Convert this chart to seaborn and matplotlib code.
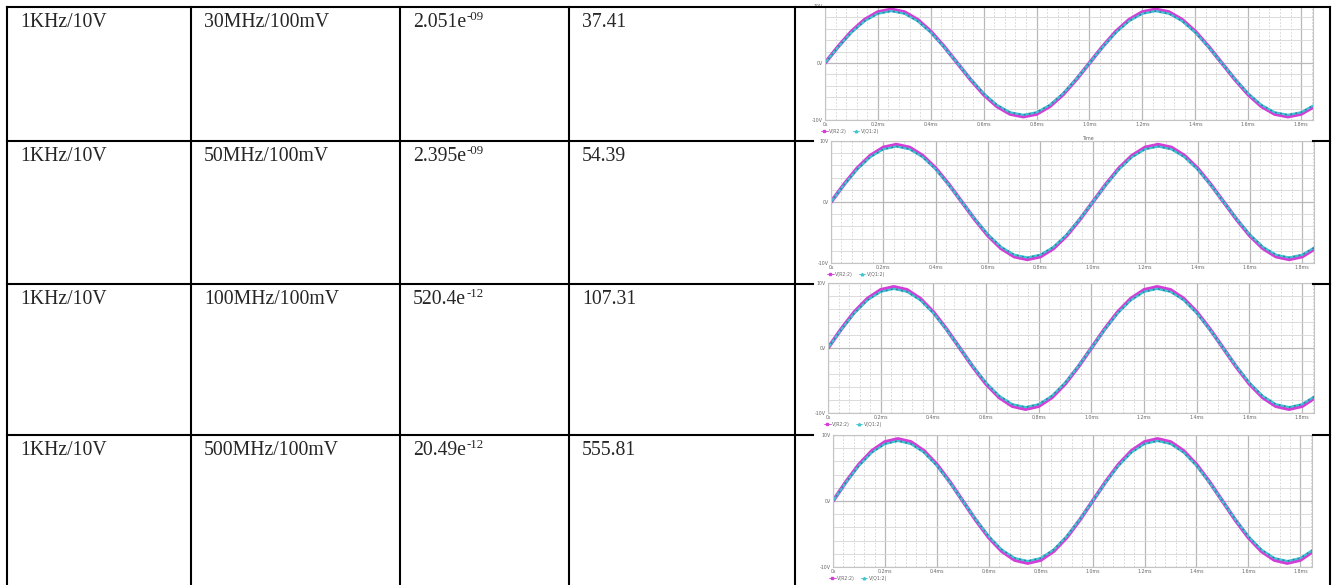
import matplotlib
matplotlib.use("Agg")
import matplotlib.pyplot as plt
from matplotlib.lines import Line2D
import numpy as np
import pandas as pd
import seaborn as sns

# ---------------- data ----------------
input_signal = ["1KHz/10V", "1KHz/10V", "1KHz/10V", "1KHz/10V"]
carrier = ["30MHz/100mV", "50MHz/100mV", "100MHz/100mV", "500MHz/100mV"]
mantissa = ["2.051e", "2.395e", "520.4e", "20.49e"]
exponent = ["-09", "-09", "-12", "-12"]
col4_values = ["37.41", "54.39", "107.31", "555.81"]

# waveform samples (time in ms, volts)
time_ms = [0.00, 0.05, 0.10, 0.15, 0.20, 0.25, 0.30, 0.35, 0.40, 0.45,
           0.50, 0.55, 0.60, 0.65, 0.70, 0.75, 0.80, 0.85, 0.90, 0.95,
           1.00, 1.05, 1.10, 1.15, 1.20, 1.25, 1.30, 1.35, 1.40, 1.45,
           1.50, 1.55, 1.60, 1.65, 1.70, 1.75, 1.80, 1.85]
v_r2 = [0.00, 2.90, 5.53, 7.60, 8.94, 9.40, 8.94, 7.60, 5.53, 2.90,
        0.00, -2.90, -5.53, -7.60, -8.94, -9.40, -8.94, -7.60, -5.53, -2.90,
        0.00, 2.90, 5.53, 7.60, 8.94, 9.40, 8.94, 7.60, 5.53, 2.90,
        0.00, -2.90, -5.53, -7.60, -8.94, -9.40, -8.94, -7.60]
v_q1 = [0.00, 2.81, 5.35, 7.36, 8.65, 9.10, 8.65, 7.36, 5.35, 2.81,
        0.00, -2.81, -5.35, -7.36, -8.65, -9.10, -8.65, -7.36, -5.35, -2.81,
        0.00, 2.81, 5.35, 7.36, 8.65, 9.10, 8.65, 7.36, 5.35, 2.81,
        0.00, -2.81, -5.35, -7.36, -8.65, -9.10, -8.65, -7.36]
xtick_vals = [0.0, 0.2, 0.4, 0.6, 0.8, 1.0, 1.2, 1.4, 1.6, 1.8]
xtick_labels = ["0s", "0.2ms", "0.4ms", "0.6ms", "0.8ms", "1.0ms", "1.2ms", "1.4ms", "1.6ms", "1.8ms"]
ytick_vals = [-10, 0, 10]
ytick_labels = ["-10V", "0V", "10V"]
trace_names = ["V(R2:2)", "V(Q1:2)"]

# ---------------- layout ----------------
sns.set_style("white")
plt.rcParams["font.family"] = ["Liberation Serif", "DejaVu Serif"]

W, H = 1334, 585
fig = plt.figure(figsize=(W / 100, H / 100), dpi=100)
fig.patch.set_facecolor("white")


def fx(x):
    return x / W


def fy(y):
    return 1 - y / H


def hline(y, x0, x1, lw=1.5):
    fig.add_artist(Line2D([fx(x0), fx(x1)], [fy(y), fy(y)], transform=fig.transFigure,
                          color="black", lw=lw, zorder=10, solid_capstyle="projecting"))


def vline(x, y0, y1, lw=1.5):
    fig.add_artist(Line2D([fx(x), fx(x)], [fy(y0), fy(y1)], transform=fig.transFigure,
                          color="black", lw=lw, zorder=10, solid_capstyle="projecting"))


col_x = [7, 191, 400, 569, 795]
right_x = 1330
row_tops = [7, 141, 284, 435]

hline(7, 7, right_x)
for y in row_tops[1:]:
    hline(y, 7, 813)
    hline(y, 1313, right_x)
for x in col_x:
    vline(x, 7, 585)
vline(right_x, 7, 585)

# ---------------- text cells ----------------
renderer = fig.canvas.get_renderer()
fs = 14.2
text_x = [x + 13 for x in col_x[:4]]
for i, top in enumerate(row_tops):
    base_y = fy(top + 20)
    fig.text(fx(text_x[0]), base_y, input_signal[i], fontsize=fs, va="baseline", ha="left")
    fig.text(fx(text_x[1]), base_y, carrier[i], fontsize=fs, va="baseline", ha="left")
    t = fig.text(fx(text_x[2]), base_y, mantissa[i], fontsize=fs, va="baseline", ha="left")
    bb = t.get_window_extent(renderer)
    fig.text(bb.x1 / W + 0.0004, fy(top + 13), exponent[i], fontsize=9.3,
             va="baseline", ha="left")
    fig.text(fx(text_x[3]), base_y, col4_values[i], fontsize=fs, va="baseline", ha="left")

# ---------------- waveform plots ----------------
ax_boxes = [  # left, right, top, bottom in pixels
    (825, 1313, 6, 120),
    (831, 1314, 141, 263),
    (828, 1314, 283, 413),
    (833, 1312, 435, 567),
]
mag = "#d23ed6"
cyan = "#3cc6cf"
navy = "#3b3f9c"

df = pd.DataFrame({
    "time": time_ms * 2,
    "voltage": v_r2 + v_q1,
    "trace": [trace_names[0]] * len(time_ms) + [trace_names[1]] * len(time_ms),
})

for k, (l, r, t, b) in enumerate(ax_boxes):
    ax = fig.add_axes([fx(l), fy(b), (r - l) / W, (b - t) / H])
    ax.set_facecolor("white")
    sns.lineplot(data=df[df.trace == trace_names[0]], x="time", y="voltage",
                 color=mag, linewidth=2.7, ax=ax, legend=False)
    sns.lineplot(data=df[df.trace == trace_names[1]], x="time", y="voltage",
                 color=cyan, linewidth=1.6, ax=ax, legend=False)
    sns.lineplot(data=df[df.trace == trace_names[1]], x="time", y="voltage",
                 color=navy, linewidth=1.1, ax=ax, legend=False, alpha=0.6,
                 linestyle=(0, (1.2, 2.2)))
    ax.set_xlim(0, 1.845)
    ax.set_ylim(-10, 10)
    ax.set_xticks(xtick_vals)
    ax.set_xticklabels(xtick_labels)
    ax.set_yticks(ytick_vals)
    ax.set_yticklabels(ytick_labels)
    ax.set_xticks(np.arange(0, 1.845, 0.04), minor=True)
    ax.set_yticks(np.arange(-10, 10.1, 2), minor=True)
    ax.grid(which="major", color="#b8b8b8", lw=0.9)
    ax.grid(which="minor", axis="y", color="#d6d6d6", lw=0.6)
    ax.grid(which="minor", axis="x", color="#d0d0d0", lw=0.6, ls=(0, (2, 2)))
    ax.set_axisbelow(True)
    ax.tick_params(which="both", length=0, labelsize=3.4, labelcolor="#666666", pad=1.5)
    for lab in ax.get_xticklabels() + ax.get_yticklabels():
        lab.set_family("DejaVu Sans")
    for s in ax.spines.values():
        s.set_color("#c4c4c4")
        s.set_linewidth(0.8)
    ax.set_xlabel("")
    ax.set_ylabel("")
    handles = [Line2D([], [], color=mag, marker="s", ms=1.8, lw=0.6),
               Line2D([], [], color=cyan, marker="^", ms=1.8, lw=0.6)]
    ax.legend(handles, trace_names, loc="upper left", ncol=2, frameon=False,
              bbox_to_anchor=(fx(l - 4), fy(b + 9)), bbox_transform=fig.transFigure,
              prop={"family": "DejaVu Sans", "size": 3.4}, labelcolor="#666666",
              handlelength=1.4, handletextpad=0.3, columnspacing=1.2, borderpad=0,
              borderaxespad=0)

fig.text(fx(1089), fy(139), "Time", fontsize=3.4, color="#666666", family="DejaVu Sans",
         ha="center", va="center")

fig.savefig("out.png", dpi=100, facecolor="white")
